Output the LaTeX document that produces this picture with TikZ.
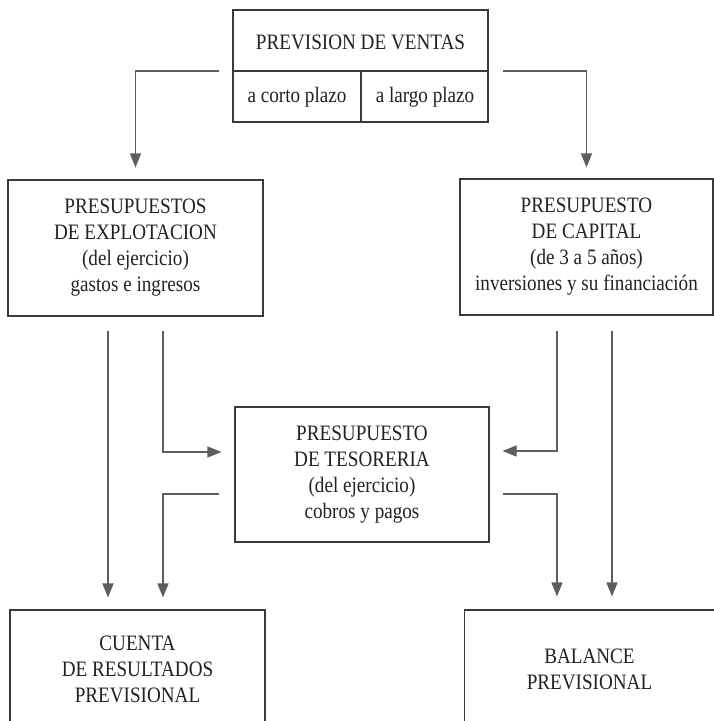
\documentclass[tikz,border=0pt]{standalone}
\usepackage{fontspec}
\setmainfont{Liberation Serif}[FakeStretch=0.87]
\usetikzlibrary{arrows.meta}
\definecolor{boxc}{HTML}{3A3A3A}
\definecolor{arrc}{HTML}{5E5E5E}
\definecolor{txt}{HTML}{222222}
\begin{document}
\begin{tikzpicture}[x=1pt,y=-1pt,
  box/.style={draw=boxc, line width=1.1pt, rectangle, inner sep=0pt, align=center,
    font=\fontsize{22}{26}\selectfont, text=txt},
  lbl/.style={inner sep=0pt, align=center, font=\fontsize{22}{26}\selectfont, text=txt},
  arr/.style={draw=arrc, line width=1.1pt, -{Triangle[length=14pt,width=11pt]}},
  ln/.style={draw=boxc, line width=1.1pt}]
\clip (0,0) rectangle (714,721);
\fill[white] (0,0) rectangle (714,721);

% top box
\node[box, minimum width=255pt, minimum height=112pt] (prev) at (360.5,66) {};
\coordinate (dl) at (233,71);
\coordinate (dr) at (488,71);
\coordinate (dm) at (361,71);
\draw[ln] (dl) -- (dr);
\draw[ln] (dm) -- (dm |- prev.south);
\node[lbl] (title) at (360.5,42) {PREVISION DE VENTAS};
\node[lbl] (corto) at (297,97) {a corto plazo};
\node[lbl] (largo) at (425,97) {a largo plazo};

% second row
\node[box, minimum width=255pt, minimum height=136pt] (expl) at (135.5,248)
  {PRESUPUESTOS\\DE EXPLOTACION\\(del ejercicio)\\gastos e ingresos};
\node[box, minimum width=253pt, minimum height=136pt] (cap) at (586.5,247)
  {PRESUPUESTO\\DE CAPITAL\\(de 3 a 5 años)\\inversiones y su financiación};

% center
\node[box, minimum width=254pt, minimum height=135pt] (tes) at (362,474.5)
  {PRESUPUESTO\\DE TESORERIA\\(del ejercicio)\\cobros y pagos};

% bottom
\node[box, minimum width=255pt, minimum height=118pt] (cta) at (137.5,669)
  {CUENTA\\DE RESULTADOS\\PREVISIONAL};
\node[box, minimum width=250pt, minimum height=118pt] (bal) at (589.5,669)
  {BALANCE\\PREVISIONAL};

% arrows from top
\draw[arr, shorten >=12pt] ([xshift=-13pt]prev.west |- dl) -| (expl.north);
\draw[arr, shorten >=11pt] ([xshift=14pt]prev.east |- dr) -| (cap.north);

% left side
\draw[arr, shorten <=14pt, shorten >=12pt]
  ([xshift=-27.5pt]expl.south) -- ([xshift=-27.5pt]expl.south |- cta.north);
\draw[arr, shorten <=14pt, shorten >=13pt]
  ([xshift=27.5pt]expl.south) |- ([yshift=22.5pt]tes.west);
\draw[arr, shorten <=15pt, shorten >=12pt]
  ([yshift=-19.5pt]tes.west) -| ([xshift=27.5pt]expl.south |- cta.north);

% right side
\draw[arr, shorten <=15pt, shorten >=13pt]
  ([xshift=-29.5pt]cap.south) |- ([yshift=23.5pt]tes.east);
\draw[arr, shorten <=15pt, shorten >=13pt]
  ([xshift=25.5pt]cap.south) -- ([xshift=25.5pt]cap.south |- bal.north);
\draw[arr, shorten <=13pt, shorten >=13pt]
  ([yshift=-19.5pt]tes.east) -| ([xshift=-29.5pt]cap.south |- bal.north);
\end{tikzpicture}
\end{document}
